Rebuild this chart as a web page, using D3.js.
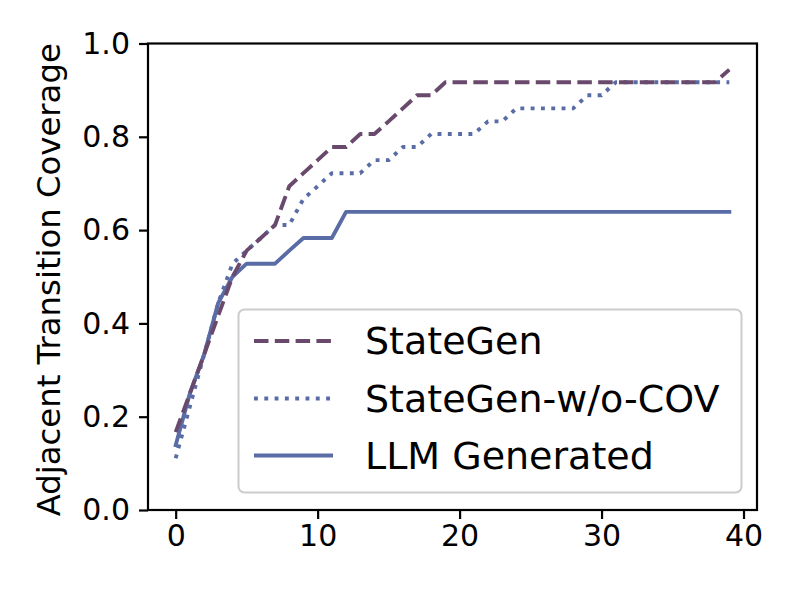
<!DOCTYPE html>
<html>
<head>
<meta charset="utf-8">
<script src="https://cdn.jsdelivr.net/npm/d3@7"></script>
<style>
  body { margin: 0; background: #fff; }
  text { font-family: "DejaVu Sans", sans-serif; }
</style>
</head>
<body>
<div id="chart"></div>
<script>
// x = iteration index 0..39
const steps = d3.range(0, 40);

// coverage values
const stateGen = [
  0.167, 0.250, 0.333, 0.417, 0.500, 0.556, 0.583, 0.611, 0.694, 0.722,
  0.750, 0.778, 0.778, 0.806, 0.806, 0.833, 0.861, 0.889, 0.889, 0.917,
  0.917, 0.917, 0.917, 0.917, 0.917, 0.917, 0.917, 0.917, 0.917, 0.917,
  0.917, 0.917, 0.917, 0.917, 0.917, 0.917, 0.917, 0.917, 0.917, 0.944
];
const stateGenNoCov = [
  0.111, 0.222, 0.333, 0.444, 0.528, 0.556, 0.583, 0.611, 0.611, 0.667,
  0.694, 0.722, 0.722, 0.722, 0.750, 0.750, 0.778, 0.778, 0.806, 0.806,
  0.806, 0.806, 0.833, 0.833, 0.861, 0.861, 0.861, 0.861, 0.861, 0.889,
  0.889, 0.917, 0.917, 0.917, 0.917, 0.917, 0.917, 0.917, 0.917, 0.917
];
const llmGenerated = [
  0.139, 0.250, 0.333, 0.444, 0.500, 0.528, 0.528, 0.528, 0.556, 0.583,
  0.583, 0.583, 0.639, 0.639, 0.639, 0.639, 0.639, 0.639, 0.639, 0.639,
  0.639, 0.639, 0.639, 0.639, 0.639, 0.639, 0.639, 0.639, 0.639, 0.639,
  0.639, 0.639, 0.639, 0.639, 0.639, 0.639, 0.639, 0.639, 0.639, 0.639
];

const seriesNames = ["StateGen", "StateGen-w/o-COV", "LLM Generated"];
const xTicks = [0, 10, 20, 30, 40];
const yTicks = [0.0, 0.2, 0.4, 0.6, 0.8, 1.0];

const width = 793, height = 595;
const margin = { left: 148, top: 43.5, right: 793 - 757, bottom: 595 - 510 };

const svg = d3.select("#chart").append("svg")
  .attr("width", width)
  .attr("height", height);

const x = d3.scaleLinear()
  .domain([-1.95, 40.95])
  .range([margin.left, width - margin.right]);
const y = d3.scaleLinear()
  .domain([0, 1])
  .range([height - margin.bottom, margin.top]);

// series styling
const series = [
  { name: seriesNames[0], values: stateGen, color: "#6a4a6c", dash: "14.5,6.3", cap: "butt" },
  { name: seriesNames[1], values: stateGenNoCov, color: "#5a6ca6", dash: "3.9,6.4", cap: "butt" },
  { name: seriesNames[2], values: llmGenerated, color: "#5a6ca6", dash: null, cap: "square" }
];

const line = d3.line()
  .x((d, i) => x(steps[i]))
  .y(d => y(d));

// lines (drawn in reverse so StateGen sits on top)
const lineG = svg.append("g");
series.slice().reverse().forEach(s => {
  lineG.append("path")
    .datum(s.values)
    .attr("d", line)
    .attr("fill", "none")
    .attr("stroke", s.color)
    .attr("stroke-width", 3.9)
    .attr("stroke-linejoin", "round")
    .attr("stroke-linecap", s.cap)
    .attr("stroke-dasharray", s.dash);
});

// axes
const xAxis = svg.append("g")
  .attr("transform", `translate(0,${height - margin.bottom})`)
  .call(d3.axisBottom(x).tickValues(xTicks).tickFormat(d3.format("d")).tickSize(9).tickPadding(6));
const yAxis = svg.append("g")
  .attr("transform", `translate(${margin.left},0)`)
  .call(d3.axisLeft(y).tickValues(yTicks).tickFormat(d3.format(".1f")).tickSize(9).tickPadding(9));

[xAxis, yAxis].forEach(a => {
  a.select(".domain").remove();
  a.selectAll(".tick line").attr("stroke", "#000").attr("stroke-width", 2.2);
  a.selectAll(".tick text")
    .attr("fill", "#000")
    .style("font-size", "30px")
    .style("font-family", "DejaVu Sans");
});

// frame
svg.append("rect")
  .attr("x", margin.left)
  .attr("y", margin.top)
  .attr("width", width - margin.left - margin.right)
  .attr("height", height - margin.top - margin.bottom)
  .attr("fill", "none")
  .attr("stroke", "#000")
  .attr("stroke-width", 2.2);

// y label
svg.append("text")
  .attr("transform", `translate(49,${(margin.top + height - margin.bottom) / 2 + 3}) rotate(-90)`)
  .attr("text-anchor", "middle")
  .attr("dominant-baseline", "central")
  .style("font-size", "32.3px")
  .text("Adjacent Transition Coverage");

// legend
const legend = svg.append("g");
legend.append("rect")
  .attr("x", 238.5)
  .attr("y", 309.5)
  .attr("width", 503)
  .attr("height", 183)
  .attr("rx", 6)
  .attr("fill", "#fff")
  .attr("fill-opacity", 0.8)
  .attr("stroke", "#cccccc")
  .attr("stroke-width", 2);

const rowY = [341, 398.5, 455.5];
series.forEach((s, i) => {
  legend.append("line")
    .attr("x1", 254).attr("x2", 333)
    .attr("y1", rowY[i]).attr("y2", rowY[i])
    .attr("stroke", s.color)
    .attr("stroke-width", 3.9)
    .attr("stroke-linecap", "butt")
    .attr("stroke-dasharray", s.dash);
  legend.append("text")
    .attr("x", 365)
    .attr("y", rowY[i])
    .attr("dominant-baseline", "central")
    .style("font-size", "38px")
    .text(s.name);
});
</script>
</body>
</html>
